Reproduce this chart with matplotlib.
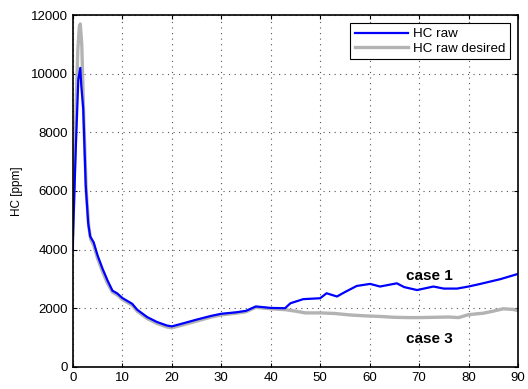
import matplotlib
matplotlib.use("Agg")
from matplotlib import pyplot as plt

plt.rcParams['font.family'] = ['Liberation Sans', 'DejaVu Sans']

# desired HC raw (gray)
t_des = [0, 0.5, 1.0, 1.3, 1.5, 1.8, 2.2, 2.7, 3.2, 3.6, 4.2, 5, 6, 7, 8, 9, 10, 11, 12, 13,
         15, 17, 19, 20, 22, 25, 28, 30, 33, 35, 37, 40, 43, 45, 47, 50, 53, 56, 59, 62,
         65, 68, 70, 73, 76, 78, 80, 83, 85, 87, 89, 90]
hc_des = [4500, 8000, 10800, 11600, 11700, 11000, 8500, 6000, 4800, 4350, 4150, 3700, 3250,
          2850, 2550, 2450, 2300, 2200, 2100, 1900, 1650, 1480, 1360, 1330, 1420, 1560, 1700,
          1770, 1830, 1880, 2030, 1980, 1950, 1900, 1840, 1840, 1820, 1770, 1740, 1720,
          1690, 1680, 1680, 1690, 1700, 1680, 1780, 1830, 1900, 1980, 1960, 1920]

# HC raw, case 1 (diverges after ~43 s)
t_c1 = [0, 0.05, 0.6, 1.1, 1.5, 1.7, 2.1, 2.6, 3.1, 3.5, 4.2, 5, 6, 7, 8, 9, 10, 11, 12, 13,
        15, 17, 19, 20, 22, 25, 28, 30, 33, 35, 37, 40, 42.9, 44, 46.6, 50, 51.3, 53.4, 55,
        57.4, 60.1, 62.1, 65.5, 67, 69.6, 72.9, 75, 77.7, 80, 82.4, 86.4, 90]
hc_c1 = [4000, 4600, 7500, 9800, 10200, 9600, 8800, 6200, 4900, 4450, 4250, 3800, 3350,
         2950, 2600, 2500, 2350, 2250, 2150, 1950, 1700, 1530, 1410, 1380, 1470, 1610, 1740,
         1810, 1860, 1910, 2060, 2010, 2000, 2170, 2310, 2340, 2510, 2400, 2550,
         2760, 2830, 2740, 2850, 2720, 2620, 2740, 2670, 2670, 2740, 2830, 2990, 3170]

# HC raw, case 3 (follows the desired trace)
t_c3 = [43, 45, 47, 50, 53, 56, 59, 62, 65, 68, 70, 73, 76, 78, 80, 83, 85, 87, 89, 90]
hc_c3 = [1960, 1900, 1850, 1840, 1820, 1770, 1740, 1720, 1690, 1680, 1680, 1690, 1700,
         1680, 1790, 1840, 1910, 1990, 1970, 1930]

fig = plt.figure(figsize=(5.28, 3.89), dpi=100)
ax = fig.add_axes([0.138, 0.057, 0.843, 0.904])

ax.plot(t_c3, hc_c3, color='#0000ff', lw=1.0)
ax.plot(t_des, hc_des, color='#b3b3b3', lw=2.4, label='HC raw desired')
ax.plot(t_c1, hc_c1, color='#0000ff', lw=1.6, label='HC raw')

ax.set_xlim(0, 90)
ax.set_ylim(0, 12000)
ax.set_xticks(range(0, 91, 10))
ax.set_yticks(range(0, 12001, 2000))
ax.tick_params(direction='in', labelsize=9.5, length=3, top=True, right=True)
ax.grid(True, color='#555555', linestyle=(0, (1, 4)), linewidth=0.8)
for s in ax.spines.values():
    s.set_linewidth(1.2)
ax.set_ylabel('HC [ppm]', fontsize=8.5, labelpad=6)

handles, labels = ax.get_legend_handles_labels()
leg = ax.legend(handles[::-1], labels[::-1], loc='upper right', fontsize=9.6,
                fancybox=False, edgecolor='black', framealpha=1,
                handlelength=4.0, borderpad=0.35, labelspacing=0.15,
                borderaxespad=0.6, handletextpad=0.35)
leg.get_frame().set_linewidth(0.8)

ax.text(72, 3100, 'case 1', fontsize=11, fontweight='bold', ha='center', va='center')
ax.text(72, 950, 'case 3', fontsize=11, fontweight='bold', ha='center', va='center')

fig.savefig('out.png', dpi=100)
